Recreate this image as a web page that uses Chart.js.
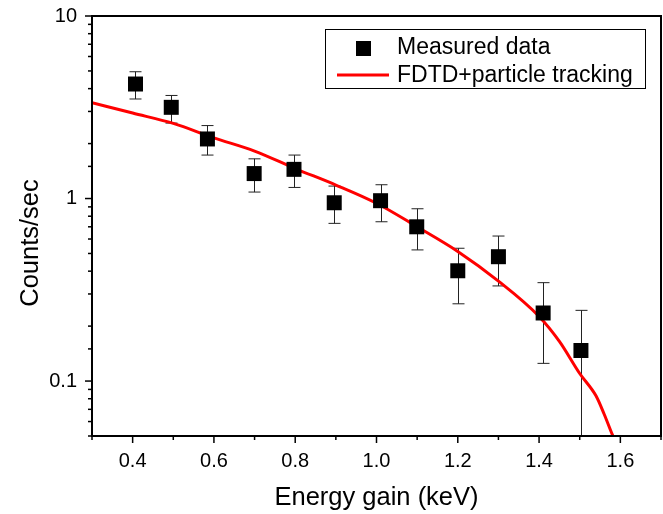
<!DOCTYPE html>
<html>
<head>
<meta charset="utf-8">
<script src="https://cdn.jsdelivr.net/npm/chart.js@4"></script>
<style>
  html, body { margin: 0; padding: 0; background: #fff; }
  #wrap { width: 663px; height: 514px; }
</style>
</head>
<body>
<div id="wrap"><canvas id="chart" width="663" height="514"></canvas></div>
<script>
// measured points (energy gain in keV, counts/sec) with error bar ends
const measX = [0.407, 0.495, 0.584, 0.699, 0.797, 0.896, 1.01, 1.099, 1.2, 1.3, 1.41, 1.503];
const measY = [4.24, 3.16, 2.12, 1.37, 1.445, 0.948, 0.973, 0.70, 0.402, 0.48, 0.236, 0.147];
const errHigh = [4.95, 3.67, 2.51, 1.65, 1.73, 1.17, 1.19, 0.879, 0.534, 0.623, 0.346, 0.244];
const errLow = [3.51, 2.59, 1.73, 1.085, 1.15, 0.731, 0.746, 0.523, 0.265, 0.332, 0.125, 0.04];

// simulation curve
const curveX = [0.3, 0.4, 0.5, 0.6, 0.7, 0.8, 0.9, 1.0, 1.1, 1.2, 1.3, 1.4, 1.45, 1.5, 1.54, 1.56, 1.58, 1.6];
const curveY = [3.35, 2.94, 2.58, 2.15, 1.82, 1.46, 1.186, 0.942, 0.70, 0.513, 0.353, 0.226, 0.165, 0.11, 0.083, 0.066, 0.051, 0.04];

const xLabels = ['0.4', '0.6', '0.8', '1.0', '1.2', '1.4', '1.6'];
const yLabels = ['0.1', '1', '10'];

const FONT = "Arial, 'Liberation Sans', sans-serif";

const toPts = (xs, ys) => xs.map((x, i) => ({x: x, y: ys[i]}));

function xLabel(v) {
  const s = v.toFixed(1);
  return xLabels.includes(s) ? s : '';
}
function yLabel(v) {
  const s = String(+v.toPrecision(3));
  return yLabels.includes(s) ? s : '';
}

// error bars, drawn under the markers
const errorBars = {
  id: 'errorBars',
  beforeDatasetsDraw(chart) {
    const {ctx, chartArea: a, scales: {x, y}} = chart;
    ctx.save();
    ctx.beginPath();
    ctx.rect(a.left, a.top, a.right - a.left, a.bottom - a.top);
    ctx.clip();
    ctx.strokeStyle = '#222';
    ctx.lineWidth = 1;
    measX.forEach((v, i) => {
      const px = Math.round(x.getPixelForValue(v)) + 0.5;
      const hi = y.getPixelForValue(errHigh[i]);
      const lo = y.getPixelForValue(errLow[i]);
      ctx.beginPath();
      ctx.moveTo(px, hi); ctx.lineTo(px, lo);
      ctx.moveTo(px - 6, hi); ctx.lineTo(px + 6, hi);
      ctx.moveTo(px - 6, lo); ctx.lineTo(px + 6, lo);
      ctx.stroke();
    });
    ctx.restore();
  }
};

// frame, outward ticks, y title and boxed legend
const frame = {
  id: 'frame',
  afterDraw(chart) {
    const {ctx, chartArea: a, scales: {x, y}} = chart;
    ctx.save();
    ctx.strokeStyle = '#000';
    ctx.lineWidth = 1.5;
    x.ticks.forEach(t => {
      const px = x.getPixelForValue(t.value);
      const len = xLabel(t.value) ? 7 : 4;
      ctx.beginPath(); ctx.moveTo(px, a.bottom); ctx.lineTo(px, a.bottom + len); ctx.stroke();
    });
    y.ticks.forEach(t => {
      const py = y.getPixelForValue(t.value);
      const len = yLabel(t.value) ? 7 : 4;
      ctx.beginPath(); ctx.moveTo(a.left, py); ctx.lineTo(a.left - len, py); ctx.stroke();
    });
    ctx.lineWidth = 2;
    ctx.strokeRect(a.left, a.top, a.right - a.left, a.bottom - a.top);

    // y title
    ctx.fillStyle = '#000';
    ctx.font = '25.5px ' + FONT;
    ctx.textAlign = 'center';
    ctx.textBaseline = 'middle';
    ctx.translate(31, 243);
    ctx.rotate(-Math.PI / 2);
    ctx.fillText('Counts/sec', 0, 0);
    ctx.setTransform(1, 0, 0, 1, 0, 0);

    // legend
    ctx.lineWidth = 1;
    ctx.strokeRect(325.5, 29.5, 320, 59);
    ctx.fillRect(356, 41, 15, 15);
    ctx.strokeStyle = '#ff0000';
    ctx.lineWidth = 3;
    ctx.beginPath(); ctx.moveTo(337, 75); ctx.lineTo(389, 75); ctx.stroke();
    ctx.font = '23px ' + FONT;
    ctx.textAlign = 'left';
    ctx.fillText('Measured data', 397, 48);
    ctx.fillText('FDTD+particle tracking', 397, 76);
    ctx.restore();
  }
};

new Chart(document.getElementById('chart'), {
  type: 'scatter',
  data: {
    datasets: [
      {
        label: 'Measured data',
        data: toPts(measX, measY),
        pointStyle: 'rect',
        pointRadius: 10.6,
        backgroundColor: '#000',
        borderColor: '#000',
        borderWidth: 0,
        order: 1
      },
      {
        label: 'FDTD+particle tracking',
        type: 'line',
        data: toPts(curveX, curveY),
        borderColor: '#ff0000',
        borderWidth: 3,
        pointRadius: 0,
        cubicInterpolationMode: 'monotone',
        fill: false,
        order: 2
      }
    ]
  },
  options: {
    responsive: false,
    animation: false,
    layout: { autoPadding: false, padding: { top: 16, right: 2, left: 0, bottom: 0 } },
    plugins: { legend: { display: false }, tooltip: { enabled: false } },
    scales: {
      x: {
        type: 'linear',
        min: 0.3,
        max: 1.7,
        grid: { display: false, drawTicks: false },
        border: { display: false },
        ticks: {
          stepSize: 0.1,
          autoSkip: false,
          maxRotation: 0,
          padding: 13,
          color: '#000',
          font: { family: FONT, size: 20 },
          callback: v => xLabel(v)
        },
        title: {
          display: true,
          text: 'Energy gain (keV)',
          color: '#000',
          font: { family: FONT, size: 25.5 },
          padding: { bottom: 1 }
        },
        afterFit: s => { s.height = 78; s.paddingLeft = 0; s.paddingRight = 0; }
      },
      y: {
        type: 'logarithmic',
        min: 0.05,
        max: 10,
        grid: { display: false, drawTicks: false },
        border: { display: false },
        ticks: {
          autoSkip: false,
          padding: 15,
          color: '#000',
          font: { family: FONT, size: 20 },
          callback: v => yLabel(v)
        },
        afterFit: s => { s.width = 92; s.paddingTop = 0; s.paddingBottom = 0; }
      }
    }
  },
  plugins: [errorBars, frame]
});
</script>
</body>
</html>
